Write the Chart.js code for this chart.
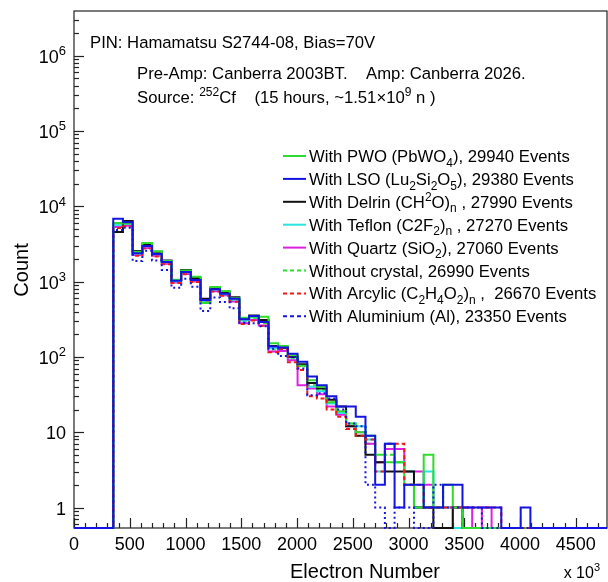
<!DOCTYPE html>
<html>
<head>
<meta charset="utf-8">
<script src="https://cdn.jsdelivr.net/npm/chart.js@4.4.1/dist/chart.umd.min.js"></script>
<style>
  html, body { margin: 0; padding: 0; background: #fff; }
  canvas { display: block; }
</style>
</head>
<body>
<canvas id="chart" width="608" height="582"></canvas>
<script>
// axis ranges (electron number in units of 10^3, counts on log scale)
const X_MIN = 0, X_MAX = 4780;
const Y_MIN = 0.5344, Y_MAX = 3.92e6;

const xTickLabels = ['0','500','1000','1500','2000','2500','3000','3500','4000','4500'];
const yDecades = [0, 1, 2, 3, 4, 5, 6];

// histogram bin edges (x 10^3 electrons)
const binEdges = [352, 439, 526, 613, 700, 787, 874, 961, 1048, 1135, 1222, 1309, 1396, 1483,
  1570, 1657, 1744, 1831, 1918, 2005, 2092, 2179, 2266, 2353, 2440, 2527, 2614, 2701, 2788,
  2875, 2962, 3049, 3136, 3223, 3310, 3397, 3484, 3571, 3658, 3745, 3832, 3919, 4006, 4093];

// counts per bin, one array per sample
const pwo       = [6000, 5900, 2500, 3250, 2530, 1870, 1060, 1400, 1160, 520, 850, 750, 600, 330, 340, 340, 152, 140, 105, 76, 49, 40, 25, 19, 13, 10, 9, 5, 4, 4, 2, 1, 5, 1, 2, 1, 0, 0, 0, 0, 0, 0, 0];
const lso       = [6840, 6120, 2380, 2970, 2330, 1820, 1030, 1340, 1050, 570, 790, 692, 593, 316, 350, 290, 137, 133, 110, 86, 55, 42, 30, 22, 22, 16, 9, 2, 7, 1, 2, 2, 1, 1, 2, 2, 1, 1, 1, 1, 0, 0, 1];
const delrin    = [4560, 6380, 2550, 3100, 2500, 1900, 1050, 1420, 1120, 590, 820, 720, 620, 325, 355, 310, 140, 132, 100, 80, 45, 38, 27, 22, 12, 9, 5, 4, 3, 3, 3, 1, 1, 0, 0, 1, 0, 0, 0, 0, 0, 0, 0];
const teflon    = [5630, 5800, 2350, 2950, 2300, 1800, 1000, 1330, 1040, 540, 780, 680, 580, 305, 335, 300, 130, 130, 98, 78, 40, 35, 24, 18, 13, 12, 8, 3, 7, 4, 3, 1, 3, 1, 1, 0, 0, 0, 0, 0, 0, 0, 0];
const quartz    = [5310, 5500, 2250, 2800, 2200, 1720, 970, 1260, 1000, 555, 745, 660, 545, 280, 310, 262, 118, 120, 90, 42, 38, 32, 22, 17, 12, 10, 7, 4, 6, 6, 3, 3, 2, 1, 1, 1, 1, 0, 1, 0, 0, 0, 0];
const noCrystal = [5470, 5600, 2300, 2850, 2250, 1750, 1000, 1300, 1020, 530, 760, 670, 560, 290, 320, 280, 125, 125, 95, 75, 42, 36, 25, 18, 11, 9, 7, 4, 5, 4, 2, 1, 1, 1, 1, 1, 0, 0, 0, 0, 0, 0, 0];
const acrylic   = [5150, 5400, 2200, 2750, 2150, 1700, 960, 1250, 990, 560, 740, 650, 540, 273, 305, 258, 115, 127, 85, 67, 30, 28, 20, 16, 11, 9, 8, 3, 7, 7, 2, 2, 1, 1, 1, 1, 1, 1, 1, 1, 0, 0, 0];
const aluminium = [4840, 5200, 1880, 2570, 1900, 1430, 830, 1090, 855, 407, 617, 536, 442, 285, 280, 255, 128, 103, 100, 70, 31, 33, 28, 20, 13, 12, 2, 1, 0, 1, 1, 0, 0, 2, 1, 1, 1, 1, 0, 0, 0, 0, 0];

const seriesNames = ['PWO', 'LSO', 'Delrin', 'Teflon', 'Quartz', 'Without crystal', 'Arcylic', 'Aluminium'];
const seriesCounts = [pwo, lso, delrin, teflon, quartz, noCrystal, acrylic, aluminium];
const seriesColors = ['#2edc2e', '#1414e0', '#111111', '#2ae4e4', '#e020e0', '#2edc2e', '#f01818', '#1414e0'];
const seriesDash = [[], [], [], [], [], [4, 3], [4, 3], [2, 3]];
const seriesOrder = [3, 0, 4, 5, 6, 7, 2, 1];

// legend text: [text, 'n' | 'sub' | 'sup']
const legendParts = [
  [['With PWO (PbWO', 'n'], ['4', 'sub'], ['), 29940 Events', 'n']],
  [['With LSO (Lu', 'n'], ['2', 'sub'], ['Si', 'n'], ['2', 'sub'], ['O', 'n'], ['5', 'sub'], ['), 29380 Events', 'n']],
  [['With Delrin (CH', 'n'], ['2', 'sup'], ['O)', 'n'], ['n', 'sub'], [' , 27990 Events', 'n']],
  [['With Teflon (C2F', 'n'], ['2', 'sub'], [')', 'n'], ['n', 'sub'], [' , 27270 Events', 'n']],
  [['With Quartz (SiO', 'n'], ['2', 'sub'], ['), 27060 Events', 'n']],
  [['Without crystal, 26990 Events', 'n']],
  [['With Arcylic (C', 'n'], ['2', 'sub'], ['H', 'n'], ['4', 'sub'], ['O', 'n'], ['2', 'sub'], [')', 'n'], ['n', 'sub'], [' ,  26670 Events', 'n']],
  [['With Aluminium (Al), 23350 Events', 'n']]
];

const FONT = '"Liberation Sans", Arial, Helvetica, sans-serif';
const TEXT_SIZE = 16.7;

function histPoints(counts) {
  const pts = [{ x: X_MIN, y: Y_MIN }];
  counts.forEach((c, i) => pts.push({ x: binEdges[i], y: c > 0 ? c : Y_MIN }));
  pts.push({ x: binEdges[counts.length], y: Y_MIN });
  pts.push({ x: X_MAX, y: Y_MIN });
  return pts;
}

function richText(ctx, parts, x, y, size, align) {
  const small = Math.round(size * 0.7);
  const widths = parts.map(([t, k]) => {
    ctx.font = (k === 'n' ? size : small) + 'px ' + FONT;
    return ctx.measureText(t).width;
  });
  const total = widths.reduce((a, b) => a + b, 0);
  let cx = align === 'right' ? x - total : align === 'center' ? x - total / 2 : x;
  ctx.textAlign = 'left';
  ctx.textBaseline = 'alphabetic';
  parts.forEach(([t, k], i) => {
    ctx.font = (k === 'n' ? size : small) + 'px ' + FONT;
    const dy = k === 'sup' ? -size * 0.42 : k === 'sub' ? size * 0.28 : 0;
    ctx.fillText(t, cx, y + dy);
    cx += widths[i];
  });
}

function hline(ctx, x1, y1, x2, y2) {
  ctx.beginPath();
  ctx.moveTo(x1, y1);
  ctx.lineTo(x2, y2);
  ctx.stroke();
}

const rootFrame = {
  id: 'rootFrame',
  beforeDatasetsDraw(chart) {
    const { ctx, chartArea: a, scales: { x, y } } = chart;
    ctx.save();
    ctx.strokeStyle = '#222';
    ctx.lineWidth = 1.2;
    ctx.strokeRect(a.left, a.top, a.right - a.left, a.bottom - a.top);

    // x ticks: major every 500, minor every 100
    for (let v = 0; v <= X_MAX; v += 100) {
      const px = Math.round(x.getPixelForValue(v)) + 0.5;
      hline(ctx, px, a.bottom, px, a.bottom - (v % 500 === 0 ? 10 : 5));
    }
    // y ticks: decades + 2..9
    for (let e = -1; e <= 6; e++) {
      for (let m = 1; m <= 9; m++) {
        const v = m * Math.pow(10, e);
        if (v < Y_MIN || v > Y_MAX) continue;
        const py = Math.round(y.getPixelForValue(v)) + 0.5;
        hline(ctx, a.left, py, a.left + (m === 1 ? 10 : 5), py);
      }
    }
    ctx.restore();
  },
  afterDraw(chart) {
    const { ctx, scales: { x, y } } = chart;
    ctx.save();
    ctx.fillStyle = '#000';

    // x tick labels
    ctx.font = '18px ' + FONT;
    ctx.textAlign = 'center';
    ctx.textBaseline = 'alphabetic';
    xTickLabels.forEach(t => ctx.fillText(t, x.getPixelForValue(+t), 550));

    // y tick labels
    yDecades.forEach(e => {
      const py = y.getPixelForValue(Math.pow(10, e));
      if (e === 0) richText(ctx, [['1', 'n']], 66, py + 7, 18, 'right');
      else if (e === 1) richText(ctx, [['10', 'n']], 66, py + 7, 18, 'right');
      else richText(ctx, [['10', 'n'], [String(e), 'sup']], 66, py + 7, 18, 'right');
    });

    // axis titles
    richText(ctx, [['Electron Number', 'n']], 365, 578, 20, 'center');
    richText(ctx, [['x 10', 'n'], ['3', 'sup']], 600, 578, 16, 'right');
    ctx.save();
    ctx.translate(28, 270);
    ctx.rotate(-Math.PI / 2);
    richText(ctx, [['Count', 'n']], 0, 0, 20, 'center');
    ctx.restore();

    // annotation text
    richText(ctx, [['PIN: Hamamatsu S2744-08, Bias=70V', 'n']], 90, 48, TEXT_SIZE, 'left');
    richText(ctx, [['Pre-Amp: Canberra 2003BT.    Amp: Canberra 2026.', 'n']], 137, 79, TEXT_SIZE, 'left');
    richText(ctx, [['Source: ', 'n'], ['252', 'sup'], ['Cf    (15 hours, ~1.51\u00d710', 'n'], ['9', 'sup'], [' n )', 'n']], 137, 103, TEXT_SIZE, 'left');

    // legend
    legendParts.forEach((parts, i) => {
      const cy = 156 + i * 22.9;
      ctx.strokeStyle = seriesColors[i];
      ctx.lineWidth = 2;
      ctx.setLineDash(seriesDash[i].length ? [4, 3] : []);
      hline(ctx, 283, cy, 306, cy);
      ctx.setLineDash([]);
      ctx.fillStyle = '#000';
      richText(ctx, parts, 309, cy + 6, TEXT_SIZE, 'left');
    });
    ctx.restore();
  }
};

const datasets = seriesCounts.map((counts, i) => ({
  label: seriesNames[i],
  data: histPoints(counts),
  borderColor: seriesColors[i],
  borderWidth: 2,
  borderDash: seriesDash[i],
  stepped: 'before',
  fill: false,
  pointRadius: 0,
  clip: false,
  order: seriesOrder[i]
}));

new Chart(document.getElementById('chart'), {
  type: 'line',
  data: { datasets },
  options: {
    responsive: false,
    animation: false,
    layout: { padding: { left: 74, top: 11, right: 1, bottom: 54 } },
    plugins: { legend: { display: false }, tooltip: { enabled: false } },
    scales: {
      x: { type: 'linear', min: X_MIN, max: X_MAX, display: false },
      y: { type: 'logarithmic', min: Y_MIN, max: Y_MAX, display: false }
    }
  },
  plugins: [rootFrame]
});
</script>
</body>
</html>
